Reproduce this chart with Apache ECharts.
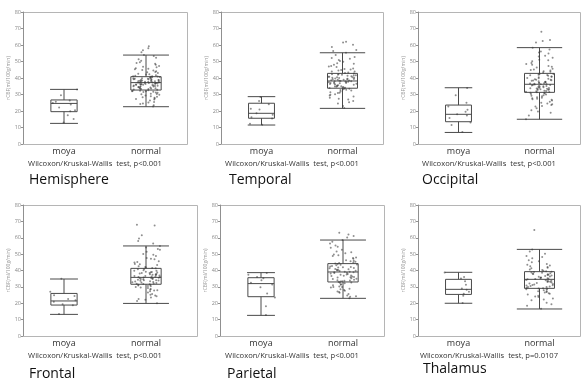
<!DOCTYPE html>
<html><head><meta charset="utf-8">
<script src="https://cdn.jsdelivr.net/npm/echarts@6/dist/echarts.min.js"></script>
<style>html,body{margin:0;padding:0;background:#fff}#c{width:581px;height:382px}</style>
</head><body><div id="c"></div>
<script>
const categories = ['moya', 'normal'];
const panelTitles = ['Hemisphere', 'Temporal', 'Occipital', 'Frontal', 'Parietal', 'Thalamus'];
const testTexts = [
  'Wilcoxon/Kruskal-Wallis  test, p<0.001',
  'Wilcoxon/Kruskal-Wallis  test, p<0.001',
  'Wilcoxon/Kruskal-Wallis  test, p<0.001',
  'Wilcoxon/Kruskal-Wallis  test, p<0.001',
  'Wilcoxon/Kruskal-Wallis  test, p<0.001',
  'Wilcoxon/Kruskal-Wallis  test, p=0.0107'
];
const yTicks = [0, 10, 20, 30, 40, 50, 60, 70, 80];
const yName = 'rCBF(ml/100g/min)';

// box stats per panel: [low whisker, Q1, median, Q3, high whisker] for moya, normal
const boxMoya = [
  [12.5, 19.6, 24.6, 26.7, 33.1],
  [11.5, 15.6, 18.6, 24.7, 28.7],
  [7.0, 13.5, 18.0, 23.6, 34.1],
  [13.2, 18.9, 21.4, 26.0, 34.8],
  [12.6, 24.0, 32.0, 35.6, 38.7],
  [20.0, 25.4, 28.5, 34.6, 38.9]
];
const boxNormal = [
  [22.6, 32.7, 37.2, 40.8, 53.9],
  [21.6, 33.8, 38.2, 42.8, 55.3],
  [15.0, 31.3, 36.2, 42.8, 58.4],
  [19.9, 31.6, 35.8, 41.3, 55.0],
  [23.0, 33.0, 39.1, 44.2, 58.6],
  [16.5, 29.1, 34.6, 39.3, 52.9]
];

// individual observations (estimated)
const hemiMoya = [13.0, 15.2, 17.5, 19.8, 20.4, 22.1, 24.0, 24.8, 25.6, 26.3, 29.6, 33.0];
const hemiNormal = [22.7,23.5,24.2,25.1,25.5,26.4,26.9,27.6,28.1,28.4,29.0,29.4,29.8,30.3,30.5,31.0,31.2,31.7,32.0,32.3,32.6,32.9,33.1,33.4,33.7,34.0,34.2,34.5,34.6,35.0,35.1,35.4,35.7,35.9,36.0,36.3,36.5,36.6,36.9,37.0,37.2,37.3,37.6,37.8,38.0,38.1,38.4,38.6,38.8,39.0,39.2,39.5,39.7,39.9,40.1,40.4,40.7,41.0,41.4,41.7,42.1,42.6,43.0,43.5,44.1,44.6,45.3,45.9,46.5,47.2,48.0,48.7,49.6,50.4,51.3,52.3,53.4,54.0,55.6,56.8,58.1,59.3,
  30.2,31.5,32.1,33.3,33.8,34.4,34.9,35.3,35.5,35.9,36.1,36.4,36.7,36.9,37.1,37.4,37.7,37.9,38.2,38.5,38.9,39.3,39.6,40.2,40.6,41.1,42.3,43.7,44.9,46.8,28.7,27.2,33.5,35.0,36.2,37.5,38.3,39.4,24.6,31.9,40.9,45.6,49.1];
const tempMoya = [11.6, 12.3, 15.5, 16.2, 17.8, 18.6, 20.9, 21.3, 24.1, 26.0, 28.5];
const tempNormal = [21.8,23.0,24.6,25.3,26.9,27.5,28.8,29.4,30.2,30.9,31.3,31.8,32.4,32.9,33.2,33.6,33.9,34.3,34.5,34.9,35.2,35.6,35.9,36.1,36.5,36.8,37.0,37.3,37.6,37.8,38.0,38.2,38.4,38.7,38.9,39.2,39.4,39.7,40.0,40.2,40.5,40.8,41.1,41.3,41.7,42.0,42.4,42.8,43.3,43.9,44.5,45.2,45.8,46.6,47.3,48.1,49.0,49.8,50.9,51.7,52.8,54.0,55.3,57.0,58.8,60.1,61.5,62.0,
  29.9,31.1,32.7,33.5,34.1,34.7,35.4,36.3,36.9,37.4,37.9,38.5,39.0,39.6,40.1,40.7,41.5,42.2,43.1,44.0,45.5,47.0,48.6,50.3,52.1,26.1,28.1,35.0,36.6,38.1,39.3,40.4,41.9,44.8,56.4];
const occMoya = [7.2, 11.5, 13.0, 15.8, 17.2, 18.0, 19.5, 20.8, 22.7, 25.0, 29.6, 34.0];
const occNormal = [15.0,17.2,18.9,20.4,21.6,22.8,23.7,24.5,25.6,26.3,27.1,27.8,28.4,29.0,29.5,30.0,30.6,31.0,31.3,31.7,32.0,32.3,32.7,33.0,33.2,33.5,33.8,34.1,34.4,34.7,35.0,35.3,35.5,35.8,36.0,36.2,36.5,36.8,37.1,37.4,37.8,38.1,38.5,38.9,39.2,39.6,40.0,40.4,40.9,41.3,41.8,42.3,42.8,43.4,44.1,44.8,45.6,46.3,47.2,48.0,49.1,50.2,51.0,52.3,53.5,54.8,56.0,57.3,58.4,61.5,62.5,63.0,68.0,
  19.7,23.1,25.0,26.8,28.0,29.2,30.3,31.5,32.1,32.9,33.4,34.0,34.6,35.1,35.7,36.3,36.9,37.6,38.3,39.0,39.9,40.7,41.6,42.5,43.8,45.1,46.8,48.5,50.7,53.0,55.5,24.1,27.4,30.9,33.7,36.7,38.7,42.0,44.5];
const frontMoya = [13.5, 18.8, 19.4, 20.9, 21.8, 22.6, 24.5, 24.9, 27.0, 35.0];
const frontNormal = [20.0,21.4,22.6,23.5,24.8,25.7,26.5,27.3,28.0,28.7,29.3,29.9,30.4,30.8,31.3,31.6,31.9,32.3,32.6,33.0,33.3,33.7,34.0,34.3,34.6,34.9,35.2,35.5,35.8,36.1,36.4,36.7,37.0,37.4,37.8,38.2,38.5,38.9,39.3,39.8,40.2,40.7,41.3,41.9,42.6,43.4,44.0,44.9,45.7,46.8,47.6,48.9,50.1,51.4,52.6,54.0,55.0,56.5,58.0,59.5,61.5,67.5,68.0,
  22.1,24.2,27.8,29.6,30.6,31.1,32.0,32.9,33.5,34.1,34.8,35.4,36.0,36.6,37.2,37.7,38.4,39.1,39.9,40.9,42.2,43.8,45.2,47.1,49.6,53.2,25.2,28.4,31.8,33.9,35.0,36.3,37.6,38.8,41.5];
const parMoya = [12.8, 18.2, 23.5, 26.0, 29.7, 31.4, 32.5, 34.0, 35.2, 36.1, 37.4, 38.5];
const parNormal = [23.0,23.9,24.7,25.6,26.4,27.2,28.1,28.9,29.6,30.3,31.0,31.6,32.2,32.7,33.0,33.5,33.9,34.4,34.8,35.3,35.7,36.1,36.6,37.0,37.4,37.8,38.2,38.6,39.0,39.3,39.7,40.1,40.5,40.9,41.3,41.8,42.2,42.7,43.2,43.7,44.2,44.9,45.6,46.3,47.1,48.0,48.8,49.7,50.6,51.6,52.7,53.9,55.2,56.5,57.6,58.6,60.2,61.0,62.0,63.1,
  24.3,26.8,28.5,30.0,31.3,32.5,33.3,34.1,35.0,35.9,36.8,37.6,38.4,39.2,39.9,40.7,41.5,42.5,43.5,44.6,46.0,47.6,49.3,51.1,54.5,27.7,29.9,33.7,36.4,38.9,40.3,42.0,44.0,45.3];
const thalMoya = [20.2, 24.6, 25.8, 27.0, 28.2, 29.0, 31.3, 33.5, 35.1, 36.0, 38.8];
const thalNormal = [16.6,18.5,20.3,21.8,22.9,23.8,24.6,25.4,26.1,26.8,27.4,28.0,28.5,29.0,29.4,29.9,30.3,30.8,31.2,31.7,32.1,32.6,33.0,33.4,33.8,34.2,34.6,35.0,35.4,35.8,36.2,36.6,37.0,37.4,37.9,38.3,38.8,39.3,39.9,40.6,41.3,42.1,43.0,44.0,45.1,46.3,47.5,48.9,50.2,51.6,52.9,64.8,
  19.4,22.3,24.1,25.8,27.1,28.2,29.2,30.0,30.6,31.4,32.3,33.2,34.0,34.8,35.6,36.4,37.2,38.0,38.6,39.6,40.3,41.7,43.5,45.6,48.2,26.5,28.8,31.0,33.6,35.2,37.7,39.1,42.6];

const pointsMoya = [hemiMoya, tempMoya, occMoya, frontMoya, parMoya, thalMoya];
const pointsNormal = [hemiNormal, tempNormal, occNormal, frontNormal, parNormal, thalNormal];

// layout
const grids = [
  {left: 23, top: 12, width: 164, height: 132},
  {left: 221, top: 12, width: 162, height: 132},
  {left: 418, top: 12, width: 162, height: 132},
  {left: 23, top: 205, width: 164, height: 131},
  {left: 220, top: 205, width: 164, height: 131},
  {left: 418, top: 205, width: 162, height: 131}
];
const frameExtra = [0, 0, 0, 10, 0, 0];
const titlePos = [
  {left: 29, top: 173}, {left: 229, top: 173}, {left: 422, top: 173},
  {left: 29, top: 367}, {left: 227, top: 367}, {left: 423, top: 362}
];

const FONT = 'Open Sans';

function renderBox(params, api) {
  const xi = api.value(0);
  const band = api.size([1, 0])[0];
  const boxW = band * (xi === 0 ? 0.32 : 0.37);
  const capW = band * (xi === 0 ? 0.34 : 0.56);
  const lo = api.coord([xi, api.value(1)]);
  const q1 = api.coord([xi, api.value(2)]);
  const md = api.coord([xi, api.value(3)]);
  const q3 = api.coord([xi, api.value(4)]);
  const hi = api.coord([xi, api.value(5)]);
  const cx = lo[0];
  const st = {stroke: '#4a4a4a', lineWidth: 1, fill: null};
  return {
    type: 'group',
    children: [
      {type: 'line', shape: {x1: cx, y1: hi[1], x2: cx, y2: q3[1]}, style: st},
      {type: 'line', shape: {x1: cx, y1: q1[1], x2: cx, y2: lo[1]}, style: st},
      {type: 'line', shape: {x1: cx - capW / 2, y1: hi[1], x2: cx + capW / 2, y2: hi[1]}, style: st},
      {type: 'line', shape: {x1: cx - capW / 2, y1: lo[1], x2: cx + capW / 2, y2: lo[1]}, style: st},
      {type: 'rect', shape: {x: cx - boxW / 2, y: q3[1], width: boxW, height: q1[1] - q3[1]}, style: st},
      {type: 'line', shape: {x1: cx - boxW / 2, y1: md[1], x2: cx + boxW / 2, y2: md[1]}, style: st}
    ]
  };
}

const option = {
  animation: false,
  textStyle: {fontFamily: FONT},
  title: [], grid: [], xAxis: [], yAxis: [], series: [], graphic: []
};

for (let i = 0; i < 6; i++) {
  const g = grids[i];
  option.title.push({
    text: panelTitles[i], left: titlePos[i].left, top: titlePos[i].top, padding: 0,
    textStyle: {fontFamily: FONT, fontSize: 14, fontWeight: 'normal', color: '#111'}
  });
  option.grid.push(Object.assign({show: false, containLabel: false}, g));
  // plot frame
  option.graphic.push({
    type: 'rect', z: -1, silent: true,
    shape: {x: g.left + 0.5, y: g.top + 0.5, width: g.width + frameExtra[i], height: g.height},
    style: {fill: '#fff', stroke: '#b5b5b5', lineWidth: 1}
  });
  option.xAxis.push({
    type: 'category', gridIndex: i, data: categories, boundaryGap: true,
    jitter: 28, jitterOverlap: true,
    axisLine: {show: false}, axisTick: {show: false},
    axisLabel: {fontSize: 9, color: '#333', margin: 3},
    name: testTexts[i], nameLocation: 'middle', nameGap: 16,
    nameTextStyle: {fontSize: 7.6, color: '#333', padding: [0, 20, 0, 0]}
  });
  option.yAxis.push({
    type: 'value', gridIndex: i, min: yTicks[0], max: yTicks[yTicks.length - 1], interval: 10,
    splitLine: {show: false},
    axisLine: {show: true, lineStyle: {color: '#909090'}},
    axisTick: {show: true, length: 2, lineStyle: {color: '#909090'}},
    axisLabel: {fontSize: 5.5, color: '#888', margin: 2},
    name: yName, nameLocation: 'middle', nameGap: 11, nameRotate: 90,
    nameTextStyle: {fontSize: 5, color: '#999'}
  });
  option.series.push({
    type: 'custom', xAxisIndex: i, yAxisIndex: i, z: 2,
    renderItem: renderBox,
    encode: {x: 0, y: [1, 2, 3, 4, 5]},
    data: [[0].concat(boxMoya[i]), [1].concat(boxNormal[i])]
  });
  option.series.push({
    type: 'scatter', xAxisIndex: i, yAxisIndex: i, z: 3,
    symbolSize: 2, itemStyle: {color: 'rgba(55,55,55,0.7)'},
    data: pointsMoya[i].map(v => [0, v]).concat(pointsNormal[i].map(v => [1, v]))
  });
}

const chart = echarts.init(document.getElementById('c'), null, {renderer: 'canvas'});
chart.setOption(option);
</script>
</body></html>
